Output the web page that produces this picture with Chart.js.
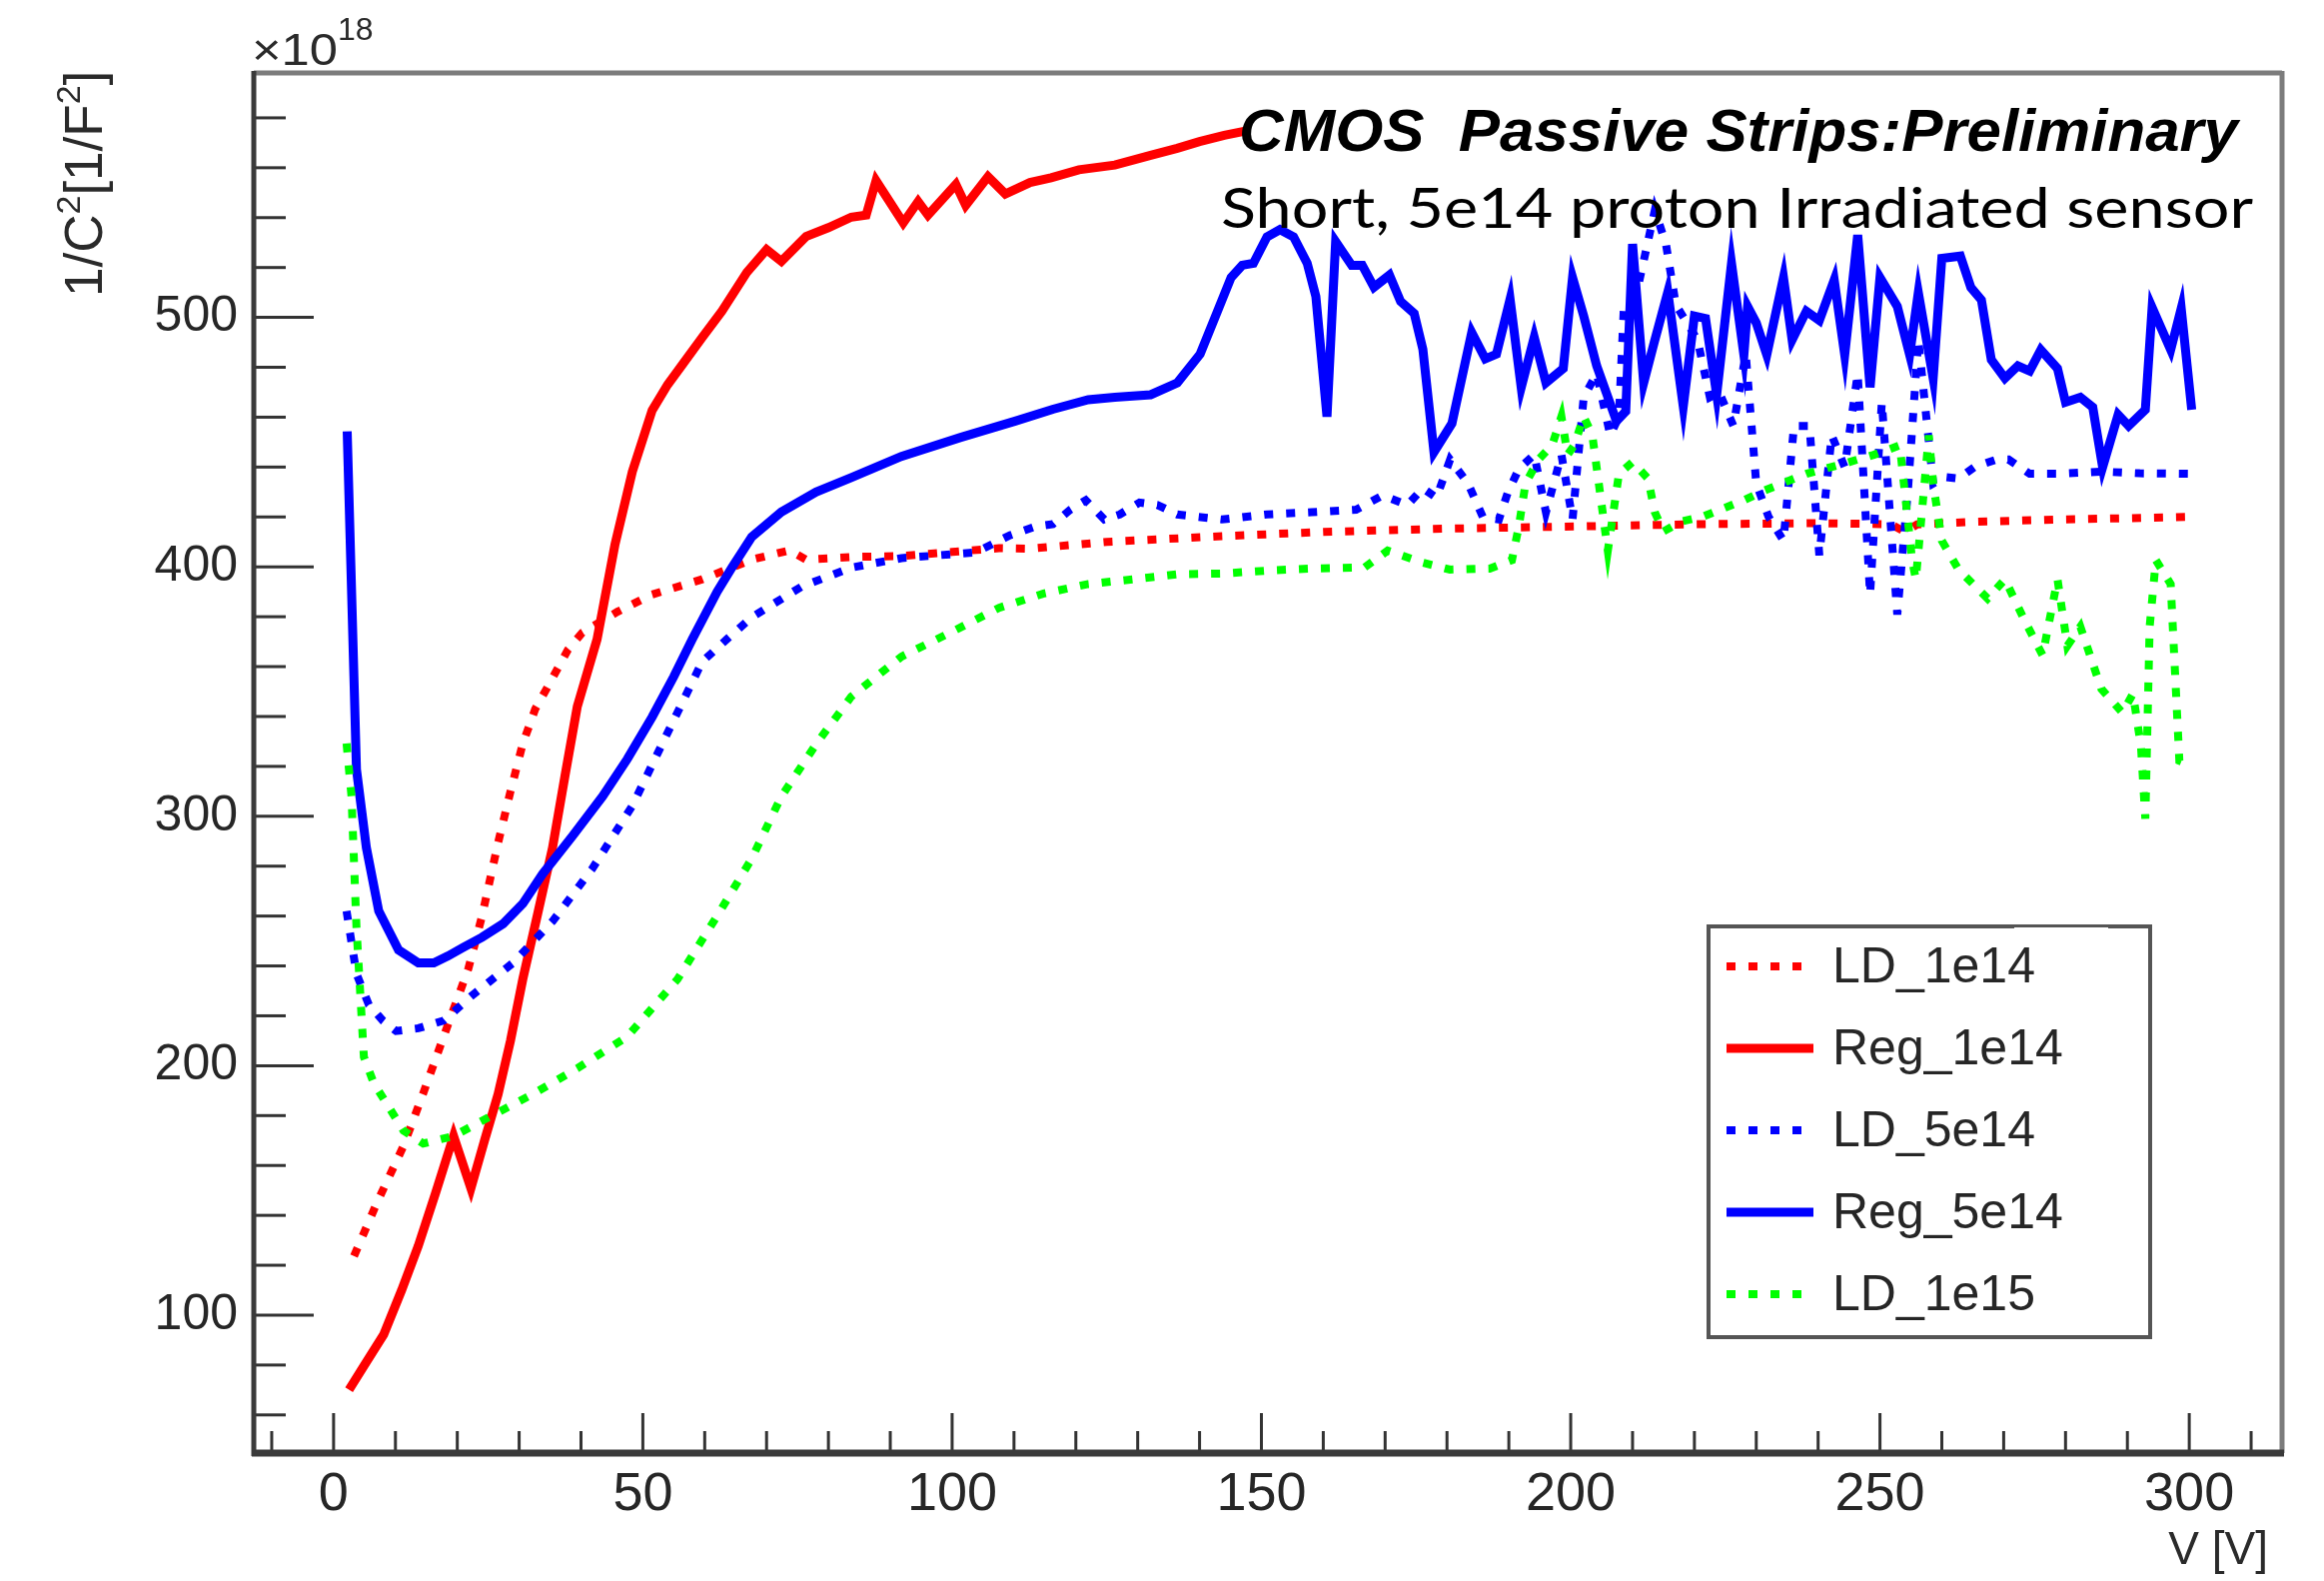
<!DOCTYPE html>
<html>
<head>
<meta charset="utf-8">
<script src="https://cdn.jsdelivr.net/npm/chart.js@4.4.1/dist/chart.umd.min.js"></script>
<style>
  html, body { margin: 0; padding: 0; background: #fff; }
</style>
</head>
<body>
<canvas id="chart" width="2326" height="1582"></canvas>
<script>
// data: [V, 1/C^2 (x1e18)]
const ld1e14 = [[3.3,123.7],[7,145],[11.3,167.8],[14.5,189],[17.8,211.7],[21.8,239],[24,260],[26.6,289.4],[28.6,310],
  [30.6,329.2],[32.6,343],[34.7,352.3],[37.9,366.8],[40.2,373.6],[45.9,382],[51.5,388.9],[59.6,395],[67.6,402.9],
  [73.7,406.6],[76.4,402.9],[84,404],[91.8,404.3],[100,406],[107.6,407.5],[112.6,407.3],[125,410],[143.6,412.3],
  [160,414],[179.6,415.3],[201.3,416.2],[220,417.1],[240,417.5],[251.8,417.1],[254,414],[256,417],[265,418],
  [279,419],[290,419.5],[300,420]];

const reg1e14 = [[2.5,70.1],[5,80],[8.1,92.2],[11,110],[13.7,127.8],[16.5,149],[19.4,171.8],[22.2,150.9],[24.4,170],
  [26.6,188.6],[28.6,210],[30.6,234.8],[33,261],[35.4,287.4],[37.4,316],[39.4,344],[42.6,371],[45.5,409],[48.3,438.2],
  [51.5,462.7],[54,473],[56.4,481.1],[59.6,492],[62.8,502.6],[66.8,518],[70,527.2],[72.4,522.5],[76.4,532.5],[80,536],
  [83.7,540.2],[86.1,541],[87.7,554.8],[92.1,537.9],[94.5,546.4],[96.1,541],[100.6,553.3],[102.2,544.9],[105.8,556.4],
  [108.6,549.5],[112.6,554.1],[116,556],[120.5,559.2],[126.3,561.1],[132.1,565],[136.4,567.8],[140,570.5],[144,573],[148,575]];

const ld5e14 = [[2.1,262],[3.7,236.9],[5.7,224.4],[8,218],[10.1,213.9],[13.7,215],[17.8,218.1],[22.6,228.6],[29,241.2],
  [35.4,257.9],[41.8,278.9],[48.3,304.2],[54,333.5],[59.6,362],[63.6,371],[67.6,379.8],[75.6,392],[83.7,399.7],
  [91.8,403.5],[103.8,405.8],[109.4,412.7],[113.4,416.1],[116.3,417.1],[119.1,422.9],[121.6,426.7],[124.6,419],
  [127.1,421],[130.3,425.8],[133.2,424.8],[136.4,421],[143.6,419],[150.9,421],[158.1,421.9],[165.3,422.9],[169.6,428.6],
  [173.6,424.8],[176.1,431.5],[178.3,427.7],[180.5,443],[183.4,433.4],[185.8,420],[188.4,419],[189.8,429.6],[191.6,439.2],
  [194.1,445],[196,421.9],[198.5,445],[200.3,419],[202.1,468],[204.2,477.5],[206.4,452.7],[207.8,460.3],[208.6,504.4],
  [210.7,510.2],[213.6,543],[215.4,529.4],[217,505],[220.5,491],[222.5,468],[224,470],[226.3,456.5],[228.3,485.3],
  [230,433.4],[232,420],[234.4,410.5],[236.1,456.5],[238.6,456.5],[240.2,404.6],[242.2,452.7],[244.3,440],[246.4,477.5],
  [248.4,389],[250.3,466],[252.8,380.9],[254.5,430],[256.2,491],[258.6,433.4],[260.5,436],[262.7,435.4],[265.4,440.2],
  [268.8,443],[270.8,443],[274.2,437.3],[279,437.3],[285.8,438.2],[292,437.5],[300,437.3]];

const reg5e14 = [[2.2,454.3],[3.7,318.8],[5.3,287.4],[7.3,262],[10.5,246.4],[13.7,241.2],[16.2,241.2],[18.5,244],
  [21,247.5],[24,251.5],[27.4,256.9],[30.6,265],[33.8,276.9],[38.6,292],[43.5,308],[47.5,323],[51.5,339.8],[55,356],
  [58,371],[62,390],[64.4,399.7],[67.6,412],[72.4,422],[78,430],[83.7,435.8],[91.8,444.3],[101.4,451.9],[110.2,458.4],
  [116.3,463.2],[122,467],[126.3,468],[132.1,469],[136.4,473.8],[140.1,485.3],[142.9,502.5],[145.1,516],[146.9,520.9],
  [148.7,521.7],[150.9,532.3],[153,535.2],[155.2,532.3],[157.4,521.7],[158.8,508.4],[160.6,460.2],[162,530.4],
  [164.6,520.9],[166.3,520.9],[168.2,512.1],[170.7,517],[172.5,506.4],[174.7,501.6],[176.1,487.2],[177.9,446],
  [180.8,457.5],[184,494],[186.2,483.4],[188,485.3],[190.2,507.3],[192,471.9],[194.1,492],[196,473.8],[198.8,479.5],
  [200.3,516],[202.1,500.6],[204.2,480.6],[207.4,458.4],[208.9,462.3],[210,529.4],[211.8,473.8],[213.5,490],
  [215.7,510.2],[218.2,464.3],[220,500.6],[221.8,499.6],[223.6,469],[226,521.7],[228,485],[228.6,504.4],[230,497.8],
  [231.7,485],[234.4,516],[235.8,491],[238.1,502.5],[240.2,498.8],[242.6,515],[244.3,485],[246.4,533],[248.4,472],
  [250,516],[252.8,504.4],[254.8,485],[256.2,510],[258.6,475.6],[260,523.7],[263,524.6],[264.7,512],[266.4,507],
  [268,483],[270.2,475.6],[272.3,480.6],[274.2,478.5],[276,487],[278.7,479.5],[280,466],[282.4,468],[284.4,464],
  [286,440],[288.5,461],[290.2,456.5],[292.9,463],[294,504],[297,487],[298.7,503.6],[300.4,463]];

const ld1e15 = [[2.1,329.2],[2.9,308],[3.7,255.6],[4.9,203.5],[6.5,193],[8.1,186.7],[11.3,174],[14.5,168.8],[19.4,171.8],
  [25,179.2],[32.2,188.6],[39.5,199.1],[47.5,211.7],[55.6,234.7],[62,260],[67.6,283],[72.4,308],[78.1,329.2],[83.7,348],
  [91.8,364],[100,374],[107.6,383.6],[114.8,389.3],[122,393.1],[129.2,395],[136.4,397],[143.6,397.3],[150.9,398.5],
  [158.1,399.3],[166.7,399.8],[170.4,406.5],[176.1,401.7],[180.5,398.9],[186.9,399.3],[190.5,402.7],[191.6,416],
  [192.7,433.4],[194.8,443],[197,448.8],[198.5,460.3],[199.5,445],[200.6,448.8],[202.1,460.3],[203.5,452.7],[206,406.5],
  [207.8,437.3],[210,442],[212.5,435.4],[213.6,421.9],[215,414.2],[217.9,418.2],[221.2,420],[228,426.7],[231.3,430.6],
  [238.1,437.3],[243.6,441],[249,444.9],[253.2,448.7],[255.2,402.7],[255.8,395],[257.9,452.7],[258.6,433.4],[260,410.5],
  [262.7,398.9],[267.4,387.3],[270.2,395],[273.5,377.9],[276.3,364.5],[278.7,395],[280.3,368.3],[282.4,376],[285.8,351],
  [289.2,341.5],[290.9,349.1],[292.2,328],[292.9,299],[293.6,376],[294.6,402.7],[297,393.1],[298.4,322.3],[300.4,320.3]];

const seriesNames = ['LD_1e14', 'Reg_1e14', 'LD_5e14', 'Reg_5e14', 'LD_1e15'];
const seriesData = [ld1e14, reg1e14, ld5e14, reg5e14, ld1e15];
const seriesColors = ['#ff0000', '#ff0000', '#0000ff', '#0000ff', '#00ff00'];
const seriesDotted = [true, false, true, false, true];

const xMajor = 50, xMinor = 10, yMajor = 100, yMinor = 20;
const titleMain = 'CMOS  Passive Strips:Preliminary';
const titleSub = 'Short, 5e14 proton Irradiated sensor';

const DOTS = [9, 13];
const FONT = "'Liberation Sans', Arial, sans-serif";

// draws text squeezed/stretched to a given width
function fitText(ctx, text, x, y, w) {
  const m = ctx.measureText(text).width;
  ctx.save();
  ctx.translate(x, y);
  ctx.scale(w / m, 1);
  ctx.fillText(text, 0, 0);
  ctx.restore();
}

function line(ctx, x1, y1, x2, y2) {
  ctx.beginPath();
  ctx.moveTo(x1, y1);
  ctx.lineTo(x2, y2);
  ctx.stroke();
}

// frame and inward ticks like a ROOT canvas
const rootFrame = {
  id: 'rootFrame',
  beforeDatasetsDraw(chart) {
    const ctx = chart.ctx, a = chart.chartArea;
    const xs = chart.scales.x, ys = chart.scales.y;
    ctx.save();
    ctx.strokeStyle = '#333';
    ctx.lineWidth = 3;
    for (let v = Math.ceil(xs.min / xMinor) * xMinor; v <= xs.max; v += xMinor) {
      const px = xs.getPixelForValue(v);
      line(ctx, px, a.bottom, px, a.bottom - (v % xMajor === 0 ? 40 : 22));
    }
    for (let v = Math.ceil(ys.min / yMinor) * yMinor; v <= ys.max; v += yMinor) {
      const py = ys.getPixelForValue(v);
      line(ctx, a.left, py, a.left + (v % yMajor === 0 ? 60 : 32), py);
    }
    ctx.strokeStyle = '#7c7c7c';
    ctx.lineWidth = 5;
    line(ctx, a.left, a.top, a.right, a.top);
    line(ctx, a.right, a.top - 2, a.right, a.bottom);
    ctx.strokeStyle = '#3a3a3a';
    ctx.lineWidth = 5;
    line(ctx, a.left, a.top - 2, a.left, a.bottom + 3);
    ctx.lineWidth = 7;
    line(ctx, a.left - 2, a.bottom, a.right + 2, a.bottom);
    ctx.restore();
  },
  afterDraw(chart) {
    const ctx = chart.ctx, a = chart.chartArea;
    ctx.save();
    ctx.fillStyle = '#2a2a2a';
    ctx.textBaseline = 'alphabetic';

    // y axis title, rotated
    ctx.save();
    ctx.translate(102, 297);
    ctx.rotate(-Math.PI / 2);
    let px = 0;
    const parts = [['1/C', 53, 0], ['2', 34, -22], ['[1/F', 53, 0], ['2', 34, -22], [']', 53, 0]];
    for (const [t, s, dy] of parts) {
      ctx.font = s + 'px ' + FONT;
      ctx.fillText(t, px, dy);
      px += ctx.measureText(t).width;
    }
    ctx.restore();

    // exponent
    ctx.font = '44px ' + FONT;
    fitText(ctx, '\u00d710', a.left - 2, 65, 86);
    ctx.font = '32px ' + FONT;
    ctx.fillText('18', a.left + 84, 40);

    // x axis title
    ctx.font = '46px ' + FONT;
    ctx.textAlign = 'right';
    ctx.fillText('V [V]', 2270, 1565);
    ctx.textAlign = 'left';

    // titles
    ctx.fillStyle = '#000';
    ctx.font = "italic bold 60px 'Liberation Sans', Arial, sans-serif";
    fitText(ctx, titleMain, 1240, 151, 1000);
    ctx.font = "57px Lato, 'Open Sans', sans-serif";
    fitText(ctx, titleSub, 1222, 228, 1033);

    // legend box
    const lx = 1710, ly = 927, lw = 442, lh = 411;
    ctx.fillStyle = '#fff';
    ctx.fillRect(lx, ly, lw, lh);
    ctx.strokeStyle = '#555';
    ctx.lineWidth = 4;
    ctx.strokeRect(lx, ly, lw, lh);
    ctx.fillStyle = '#fff';
    ctx.fillRect(2016, ly + 1, 94, 4);
    ctx.font = '50px ' + FONT;
    ctx.textBaseline = 'middle';
    chart.data.datasets.forEach((ds, i) => {
      const y = ly + 40 + i * 82;
      ctx.strokeStyle = ds.borderColor;
      ctx.lineWidth = ds.borderWidth;
      ctx.setLineDash(ds.borderDash || []);
      line(ctx, 1728, y, 1815, y);
      ctx.setLineDash([]);
      ctx.fillStyle = '#262626';
      ctx.fillText(ds.label, 1834, y + 2);
    });
    ctx.restore();
  }
};

const datasets = seriesNames.map((name, i) => ({
  label: name,
  data: seriesData[i].map(p => ({ x: p[0], y: p[1] })),
  borderColor: seriesColors[i],
  backgroundColor: seriesColors[i],
  borderWidth: seriesDotted[i] ? 8 : 9,
  borderDash: seriesDotted[i] ? DOTS : [],
  borderCapStyle: 'butt',
  showLine: true,
  pointRadius: 0,
  tension: 0,
  order: 4 - i
}));

const tickFont = { family: 'Liberation Sans', size: 50 };

const chart = new Chart(document.getElementById('chart'), {
  type: 'scatter',
  data: { datasets: datasets },
  options: {
    responsive: false,
    animation: false,
    devicePixelRatio: 1,
    layout: { padding: { top: 73, right: 42, left: 0, bottom: 0 } },
    plugins: { legend: { display: false }, tooltip: { enabled: false }, title: { display: false } },
    scales: {
      x: {
        type: 'linear', min: -12.9, max: 315,
        grid: { display: false, drawTicks: false },
        border: { display: false },
        ticks: { stepSize: xMajor, includeBounds: false, padding: 10, maxRotation: 0, autoSkip: false,
                 color: '#262626', font: { family: 'Liberation Sans', size: 54 } },
        afterFit(s) { s.height = 128; }
      },
      y: {
        type: 'linear', min: 44.7, max: 598,
        grid: { display: false, drawTicks: false },
        border: { display: false },
        ticks: { stepSize: yMajor, includeBounds: false, padding: 16, color: '#262626', font: tickFont },
        afterFit(s) { s.width = 254; }
      }
    }
  },
  plugins: [rootFrame]
});
</script>
</body>
</html>
